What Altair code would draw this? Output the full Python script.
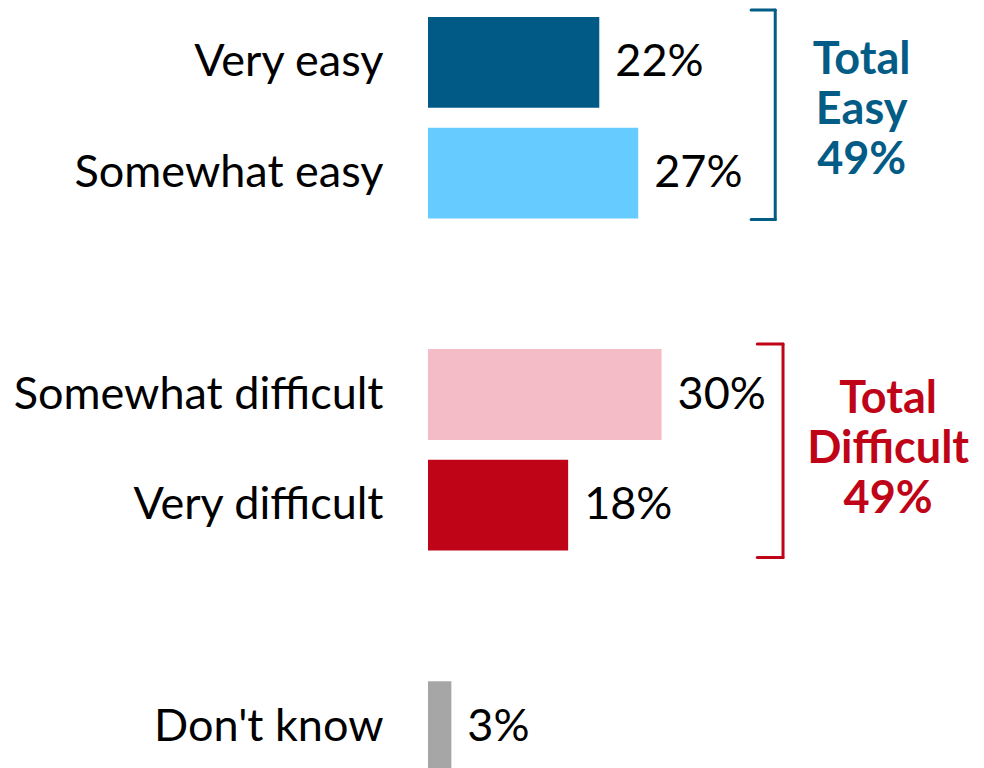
import altair as alt
import pandas as pd

# ---- data -------------------------------------------------------------
categories = ["Very easy", "Somewhat easy", "Somewhat difficult", "Very difficult", "Don't know"]
values = [22, 27, 30, 18, 3]
row_order = ["Very easy", "Somewhat easy", "_gap1", "Somewhat difficult", "Very difficult", "_gap2", "Don't know"]
bar_colors = ["#015A86", "#66CCFF", "#F4BCC7", "#C00418", "#A6A6A6"]

group_labels = ["Total\nEasy", "Total\nDifficult"]
group_first = ["Very easy", "Somewhat difficult"]
group_last = ["Somewhat easy", "Very difficult"]
group_totals = [49, 49]
group_colors = ["#035C86", "#C00418"]

# annotation placement (x in value units) and pixel offsets
bracket_x = [44.6, 45.6]
bracket_tick = [41.5, 42.3]
label_x = [55.7, 59.1]
top_off = [-7, -5]
bot_off = [1, 7]
text_dy = [-48, -41]

FONT = "Lato"
FS = 45

bars = pd.DataFrame({"cat": categories, "value": values,
                     "label": [f"{v}%" for v in values]})

yscale = alt.Scale(domain=row_order, paddingInner=0.18, paddingOuter=0.081)
xscale = alt.Scale(domain=[0, 70])
yaxis = alt.Axis(title=None, ticks=False, domain=False, labelFont=FONT,
                 labelFontSize=FS, labelColor="#000000", labelPadding=45,
                 labelLimit=1000, grid=False,
                 labelExpr="indexof(datum.label, '_gap') == 0 ? '' : datum.label")

base = alt.Chart(bars)

bar_layer = base.mark_bar().encode(
    y=alt.Y("cat:N", scale=yscale, sort=row_order, axis=yaxis),
    x=alt.X("value:Q", scale=xscale, axis=None),
    color=alt.Color("cat:N", scale=alt.Scale(domain=categories, range=bar_colors), legend=None),
)

value_layer = base.mark_text(align="left", baseline="middle", dx=16, font=FONT,
                             fontSize=FS, color="#000000").encode(
    y=alt.Y("cat:N", scale=yscale, sort=row_order, axis=yaxis),
    x=alt.X("value:Q", scale=xscale, axis=None),
    text="label:N",
)

layers = [bar_layer, value_layer]

for i in range(len(group_labels)):
    g = pd.DataFrame({"first": [group_first[i]], "last": [group_last[i]],
                      "bx": [bracket_x[i]], "bt": [bracket_tick[i]],
                      "lx": [label_x[i]],
                      "txt": [f"{group_labels[i]}\n{group_totals[i]}%"]})
    gc = alt.Chart(g)
    col = group_colors[i]
    vert = gc.mark_rule(color=col, strokeWidth=3, strokeCap="round",
                        yOffset=top_off[i], y2Offset=bot_off[i]).encode(
        x=alt.X("bx:Q", scale=xscale, axis=None),
        y=alt.Y("first:N", scale=yscale, bandPosition=0, axis=yaxis),
        y2=alt.Y2("last:N", bandPosition=1),
    )
    tick_top = gc.mark_rule(color=col, strokeWidth=3, strokeCap="round",
                            yOffset=top_off[i]).encode(
        x=alt.X("bt:Q", scale=xscale, axis=None),
        x2="bx:Q",
        y=alt.Y("first:N", scale=yscale, bandPosition=0, axis=yaxis),
    )
    tick_bot = gc.mark_rule(color=col, strokeWidth=3, strokeCap="round",
                            yOffset=bot_off[i]).encode(
        x=alt.X("bt:Q", scale=xscale, axis=None),
        x2="bx:Q",
        y=alt.Y("last:N", scale=yscale, bandPosition=1, axis=yaxis),
    )
    txt = gc.mark_text(align="center", baseline="middle", lineBreak="\n",
                       lineHeight=50, font=FONT, fontSize=FS, fontWeight="bold",
                       color=col, dy=text_dy[i]).encode(
        x=alt.X("lx:Q", scale=xscale, axis=None),
        y=alt.Y("first:N", scale=yscale, bandPosition=1, axis=yaxis),
        text="txt:N",
    )
    layers += [vert, tick_top, tick_bot, txt]

chart = alt.layer(*layers).properties(
    width=545, height=773,
    autosize=alt.AutoSizeParams(type="none"),
    padding={"left": 420, "top": 0, "right": 0, "bottom": 0},
).configure_view(stroke=None)

chart.save("out.html", embed_options={"renderer": "svg", "actions": False})
